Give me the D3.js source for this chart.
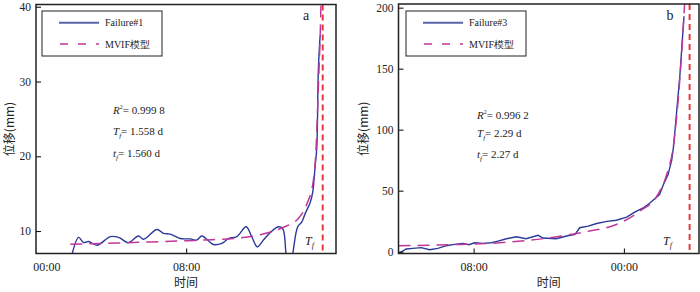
<!DOCTYPE html>
<html>
<head>
<meta charset="utf-8">
<script src="https://cdn.jsdelivr.net/npm/d3@7"></script>
<style>
  body { margin: 0; background: #fff; }
  svg { display: block; }
  text { font-family: "Liberation Serif", "Times New Roman", serif; fill: #222; }
  .cjk { font-family: "Noto Sans CJK SC", sans-serif; }
</style>
</head>
<body>
<div id="chart"></div>
<script>
// two panels: displacement vs time with MVIF fit

// panel a data (hours from 00:00, mm)
var failure1Hours = [1.40, 1.85, 2.13, 2.42, 2.9, 3.66, 4.13, 4.7, 5.27, 5.56, 6.33, 6.7, 7.09, 7.66, 8.23, 8.61, 8.9, 9.56, 10.04, 10.42, 10.9, 11.43, 11.75, 12.07, 12.42, 12.8, 13.27, 13.52, 13.71, 13.89, 14.1, 14.38, 14.61, 14.8, 15.09, 15.24, 15.37, 15.47, 15.56, 15.66];
var failure1Disp  = [6.2, 9.16, 8.46, 8.6, 8.1, 9.25, 9.16, 8.46, 9.34, 8.9, 10.2, 9.7, 9.6, 9.0, 8.95, 8.8, 9.34, 8.2, 8.36, 9.0, 9.25, 10.57, 9.25, 7.9, 8.8, 9.78, 10.57, 10.35, 7.0, 4.0, 7.0, 10.57, 11.2, 12.3, 13.8, 15.2, 18.5, 21.1, 31.5, 36.1];
var mvifAHours = [1.37, 4, 6, 8, 9.5, 10.7, 12.4, 13.55, 14.4, 14.9, 15.27, 15.43, 15.56, 15.7, 15.75];
var mvifADisp  = [8.24, 8.4, 8.55, 8.7, 8.85, 9.0, 9.6, 10.5, 11.65, 13.6, 16.7, 21.1, 29.2, 39.3, 45];
var tfA = 15.81;
var ticksA = [0, 8];
var tickLabelsA = ["00:00", "08:00"];
var yTicksA = [10, 20, 30, 40];

// panel b data
var failure3Hours = [0.0, 0.82, 1.53, 2.42, 3.31, 4.19, 5.09, 5.97, 6.86, 7.5, 8.1, 9.0, 9.9, 10.6, 11.5, 12.55, 13.6, 14.86, 15.4, 16.8, 17.9, 18.8, 19.3, 20.2, 21.1, 22.2, 23.2, 24.3, 25.2, 26.06, 26.77, 27.8, 28.2, 28.7, 29.1, 29.3, 29.97, 30.4];
var failure3Disp  = [-1.5, 2.2, 2.7, 3.3, 1.6, 2.7, 4.9, 6.0, 6.8, 5.7, 7.3, 6.8, 7.3, 8.7, 10.6, 12.2, 10.6, 13.4, 11.2, 10.6, 12.8, 14.2, 19.6, 20.9, 23.1, 24.8, 25.8, 28.3, 32.6, 35.8, 39.9, 46.8, 54.9, 63, 75.3, 87, 145, 193];
var mvifBHours = [0, 5.4, 10.8, 16.1, 19.7, 23.2, 25.7, 27.5, 28.55, 29.26, 29.97, 30.4, 30.55];
var mvifBDisp  = [4.9, 5.7, 7.3, 11.4, 16, 22.3, 33.2, 45.4, 63, 86, 142.6, 194, 215];
var tfB = 31.0;
var ticksB = [8, 24];
var tickLabelsB = ["08:00", "00:00"];
var yTicksB = [0, 50, 100, 150, 200];

var W = 700, H = 292;
var svg = d3.select("#chart").append("svg").attr("width", W).attr("height", H);

function zip(xs, ys) {
    return xs.map(function(d, i) { return [d, ys[i]]; });
}

function drawPanel(p) {
    var x = d3.scaleLinear().domain(p.xDomain).range([p.left, p.right]);
    var y = d3.scaleLinear().domain(p.yDomain).range([p.bottom, p.top]);
    var g = svg.append("g");

    g.append("clipPath").attr("id", p.id)
      .append("rect")
      .attr("x", p.left).attr("y", p.top)
      .attr("width", p.right - p.left).attr("height", p.bottom - p.top);

    var plot = g.append("g").attr("clip-path", "url(#" + p.id + ")");

    // red Tf line
    plot.append("line")
      .attr("x1", x(p.tf)).attr("x2", x(p.tf))
      .attr("y1", p.top).attr("y2", p.bottom)
      .style("stroke", "#e8383d")
      .style("stroke-width", 2)
      .style("stroke-dasharray", "6,4");

    var line = d3.line()
        .x(function(d) { return x(d[0]); })
        .y(function(d) { return y(d[1]); });

    plot.append("path")
      .datum(zip(p.dataX, p.dataY))
      .attr("d", line.curve(p.curve))
      .style("fill", "none")
      .style("stroke", "#2b3a9a")
      .style("stroke-width", 1.4);

    plot.append("path")
      .datum(zip(p.fitX, p.fitY))
      .attr("d", line.curve(d3.curveMonotoneX))
      .style("fill", "none")
      .style("stroke", "#c0379a")
      .style("stroke-width", 1.5)
      .style("stroke-dasharray", "12,7");

    // axes, ticks point inward
    var xAxis = g.append("g")
      .attr("transform", "translate(0," + p.bottom + ")")
      .call(d3.axisBottom(x).tickValues(p.xTicks)
            .tickFormat(function(d, i) { return p.xLabels[i]; })
            .tickSizeInner(-5).tickSizeOuter(0).tickPadding(9));
    xAxis.select(".domain").remove();
    xAxis.selectAll("text").style("font-size", "12px").attr("fill", "#333");
    if (p.hideFirstTick) xAxis.select(".tick line").remove();

    var yAxis = g.append("g")
      .attr("transform", "translate(" + p.left + ",0)")
      .call(d3.axisLeft(y).tickValues(p.yTicks)
            .tickSizeInner(-5).tickSizeOuter(0).tickPadding(5));
    yAxis.select(".domain").remove();
    yAxis.selectAll("text").style("font-size", "11.5px").attr("fill", "#333");

    // frame
    g.append("rect")
      .attr("x", p.left).attr("y", p.top)
      .attr("width", p.right - p.left).attr("height", p.bottom - p.top)
      .style("fill", "none").style("stroke", "#222").style("stroke-width", 1.5);

    // axis titles
    g.append("text").attr("class", "cjk")
      .attr("x", (p.left + p.right) / 2).attr("y", 287)
      .attr("text-anchor", "middle").style("font-size", "12px")
      .text("时间");
    g.append("text").attr("class", "cjk")
      .attr("transform", "translate(" + p.yLabelX + "," + ((p.top + p.bottom) / 2) + ") rotate(-90)")
      .attr("text-anchor", "middle").style("font-size", "12px")
      .text("位移(mm)");

    // legend
    var lg = g.append("g");
    lg.append("rect")
      .attr("x", p.legend[0]).attr("y", 11).attr("width", 120).attr("height", 45)
      .style("fill", "#fff").style("stroke", "#222").style("stroke-width", 1);
    lg.append("line")
      .attr("x1", p.legend[0] + 17).attr("x2", p.legend[0] + 57)
      .attr("y1", 22.7).attr("y2", 22.7)
      .style("stroke", "#5a64a8").style("stroke-width", 2);
    lg.append("line")
      .attr("x1", p.legend[0] + 18).attr("x2", p.legend[0] + 57)
      .attr("y1", 44).attr("y2", 44)
      .style("stroke", "#c0379a").style("stroke-width", 1.3)
      .style("stroke-dasharray", "8,10");
    lg.append("text")
      .attr("x", p.legend[0] + 63).attr("y", 26.3)
      .style("font-size", "10px").text(p.name);
    lg.append("text")
      .attr("x", p.legend[0] + 63).attr("y", 47.6)
      .style("font-size", "10px").text("MVIF模型");

    // panel letter
    g.append("text").attr("x", p.letterX).attr("y", 20)
      .attr("text-anchor", "middle").style("font-size", "14px").text(p.letter);

    // Tf label near bottom
    var tfl = g.append("text").attr("x", p.tfLabelX).attr("y", 245)
      .style("font-size", "12px").style("font-style", "italic");
    tfl.append("tspan").text("T");
    tfl.append("tspan").attr("dy", 3).style("font-size", "8px").text("f");

    // fit statistics
    var st = g.append("g").style("font-size", "11px");
    var r = st.append("text").attr("x", p.statX).attr("y", p.statY[0]);
    r.append("tspan").style("font-style", "italic").text("R");
    r.append("tspan").attr("dy", -5).style("font-size", "6px").text("2");
    r.append("tspan").attr("dy", 5).text("= " + p.r2);
    var t1 = st.append("text").attr("x", p.statX).attr("y", p.statY[1]);
    t1.append("tspan").style("font-style", "italic").text("T");
    t1.append("tspan").attr("dy", 3).style("font-size", "7px").style("font-style", "italic").text("f");
    t1.append("tspan").attr("dy", -3).text("= " + p.Tf);
    var t2 = st.append("text").attr("x", p.statX).attr("y", p.statY[2]);
    t2.append("tspan").style("font-style", "italic").text("t");
    t2.append("tspan").attr("dy", 3).style("font-size", "7px").style("font-style", "italic").text("f");
    t2.append("tspan").attr("dy", -3).text("= " + p.tf2);
}

drawPanel({
    id: "clipA", left: 36, right: 336, top: 4.5, bottom: 253.5,
    xDomain: [-0.59, 16.57], yDomain: [7, 40.3],
    dataX: failure1Hours, dataY: failure1Disp, curve: d3.curveCatmullRom,
    fitX: mvifAHours, fitY: mvifADisp, tf: tfA,
    xTicks: ticksA, xLabels: tickLabelsA, yTicks: yTicksA, hideFirstTick: true,
    yLabelX: 14, legend: [42], name: "Failure#1",
    letter: "a", letterX: 306, tfLabelX: 305,
    statX: 113, statY: [114, 135, 157],
    r2: "0.999 8", Tf: "1.558 d", tf2: "1.560 d"
});

drawPanel({
    id: "clipB", left: 398.5, right: 699, top: 4, bottom: 253.5,
    xDomain: [0, 32], yDomain: [-1.5, 203],
    dataX: failure3Hours, dataY: failure3Disp, curve: d3.curveLinear,
    fitX: mvifBHours, fitY: mvifBDisp, tf: tfB,
    xTicks: ticksB, xLabels: tickLabelsB, yTicks: yTicksB, hideFirstTick: false,
    yLabelX: 368, legend: [406], name: "Failure#3",
    letter: "b", letterX: 670, tfLabelX: 663,
    statX: 477, statY: [119, 137, 158],
    r2: "0.996 2", Tf: "2.29 d", tf2: "2.27 d"
});
</script>
</body>
</html>
